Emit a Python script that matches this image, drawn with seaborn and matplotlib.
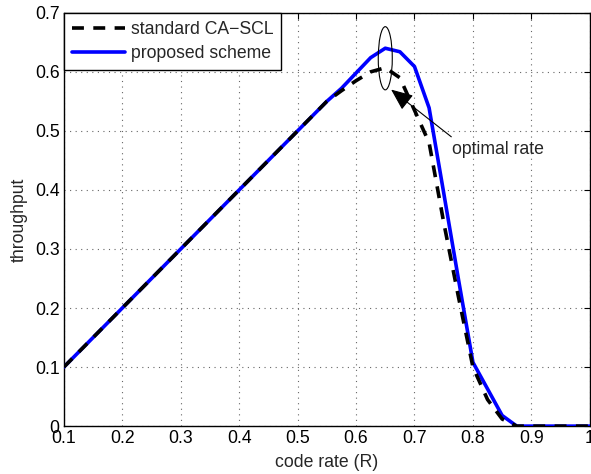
import matplotlib
matplotlib.use("Agg")
import matplotlib.pyplot as plt
import seaborn as sns
import pandas as pd
from matplotlib.patches import Ellipse

rate = [0.1, 0.15, 0.2, 0.25, 0.3, 0.35, 0.4, 0.45, 0.5, 0.55, 0.575, 0.6, 0.625, 0.65,
        0.675, 0.7, 0.725, 0.75, 0.775, 0.8, 0.825, 0.85, 0.875, 0.9, 0.925, 0.95, 0.975, 1.0]
standard = [0.1, 0.15, 0.2, 0.25, 0.3, 0.35, 0.4, 0.45, 0.5, 0.55, 0.568, 0.585, 0.600, 0.607,
            0.590, 0.535, 0.48, 0.345, 0.22, 0.10, 0.045, 0.012, 0.0, 0.0, 0.0, 0.0, 0.0, 0.0]
proposed = [0.1, 0.15, 0.2, 0.25, 0.3, 0.35, 0.4, 0.45, 0.5, 0.55, 0.572, 0.598, 0.624, 0.640,
            0.634, 0.609, 0.539, 0.395, 0.25, 0.108, 0.063, 0.018, 0.0, 0.0, 0.0, 0.0, 0.0, 0.0]
xticks = [0.1, 0.2, 0.3, 0.4, 0.5, 0.6, 0.7, 0.8, 0.9, 1.0]
xticklabels = ["0.1", "0.2", "0.3", "0.4", "0.5", "0.6", "0.7", "0.8", "0.9", "1"]
yticks = [0, 0.1, 0.2, 0.3, 0.4, 0.5, 0.6, 0.7]
yticklabels = ["0", "0.1", "0.2", "0.3", "0.4", "0.5", "0.6", "0.7"]

df = pd.DataFrame({"rate": rate, "standard": standard, "proposed": proposed})

sns.set_style("white")
plt.rcParams['font.family'] = ['Liberation Sans', 'DejaVu Sans']
FS = 12.7
plt.rcParams['font.size'] = FS

fig = plt.figure(figsize=(5.91, 4.74), dpi=100)
ax = fig.add_axes([0.108, 0.101, 0.890, 0.872])

sns.lineplot(data=df, x="rate", y="proposed", ax=ax, color="#0000ff", lw=2.6,
             label="proposed scheme", zorder=3)
sns.lineplot(data=df, x="rate", y="standard", ax=ax, color="black", lw=2.6,
             linestyle=(0, (3.3, 2.6)), label="standard CA\u2212SCL", zorder=4)

ax.set_xlim(0.1, 1.0)
ax.set_ylim(0, 0.7)
ax.set_xticks(xticks)
ax.set_xticklabels(xticklabels)
ax.set_yticks(yticks)
ax.set_yticklabels(yticklabels)
ax.tick_params(direction="in", top=True, right=True, length=4, width=0.8,
               labelsize=FS, colors="black", pad=3)
for s in ax.spines.values():
    s.set_color("black")
    s.set_linewidth(1.0)
ax.grid(True, linestyle=(0, (1, 4)), color="#666666", lw=0.8)
ax.set_axisbelow(True)
ax.set_xlabel("code rate (R)", fontsize=FS, labelpad=5)
ax.set_ylabel("throughput", fontsize=FS, labelpad=5)

ell = Ellipse((0.65, 0.623), width=0.024, height=0.107, fill=False,
              edgecolor="black", lw=0.8, zorder=5)
ax.add_patch(ell)
ax.annotate("", xy=(0.66, 0.57), xytext=(0.763, 0.49),
            arrowprops=dict(arrowstyle="-|>,head_length=0.9,head_width=0.38",
                            color="black", lw=0.8, shrinkA=0, shrinkB=0,
                            mutation_scale=15), zorder=6)
ax.text(0.765, 0.468, "optimal rate", fontsize=FS, va="center", ha="left")

handles, labels = ax.get_legend_handles_labels()
leg = ax.legend(handles[::-1], labels[::-1], loc="upper left", borderaxespad=0,
                fancybox=False, framealpha=1, edgecolor="black", fontsize=FS,
                handlelength=3.0, handletextpad=0.35, borderpad=0.45, labelspacing=0.42)
leg.get_frame().set_linewidth(1.0)

fig.savefig("out.png", dpi=100)
